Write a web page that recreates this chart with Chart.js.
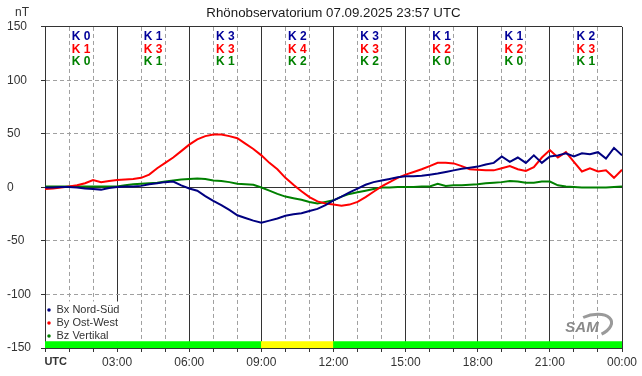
<!DOCTYPE html>
<html>
<head>
<meta charset="utf-8">
<script src="https://cdn.jsdelivr.net/npm/chart.js@4/dist/chart.umd.min.js"></script>
<style>
  html, body { margin: 0; padding: 0; background: #fff; }
</style>
</head>
<body>
<canvas id="magChart" width="642" height="376"></canvas>
<script>
const chartTitle = 'Rhönobservatorium 07.09.2025 23:57 UTC';
const stepHours = 1 / 3; // one sample every 20 minutes, 00:00 .. 24:00

// Bx Nord-Süd (nT)
const bx = [0, 0, 0.5, 0.5, 0, -1, -1.5, -2, -0.5, 0.5,
    1, 1, 1.5, 3, 4, 5, 5.5, 2, -1,
    -3, -8, -12.5, -16.5, -21, -26, -28.5, -31, -33,
    -31, -29, -26.5, -25, -24, -22, -20, -16.5, -12,
    -8.5, -4.5, -1, 2.5, 5, 6.5, 8, 9.5, 10.5,
    10.5, 11, 12, 13, 14.5, 16, 17.5, 18.5, 19.5,
    21.5, 23, 29, 24, 28, 23, 30, 23, 29,
    30, 32, 29, 32, 31, 33, 27, 37, 30];
// By Ost-West (nT)
const by = [-1.5, -1, 0, 1, 2, 4, 7, 5, 6, 7,
    7.5, 8, 9, 12, 18, 23, 28, 34, 40,
    45, 48, 49.5, 49.5, 48, 46, 41, 36, 30,
    23, 17, 9, 2.5, -3.5, -9, -13, -15, -16,
    -17, -16, -13.5, -9, -4, 1, 5, 9, 12,
    14.5, 17, 20, 23, 23, 22.5, 20, 17, 16.5,
    16, 16, 18, 20, 17, 15.5, 19, 28, 35,
    28, 33, 24, 15, 18, 15, 16, 9, 16.5];
// Bz Vertikal (nT)
const bz = [1, 1, 1, 1, 1, 1, 1, 1, 1, 1,
    2, 3, 3.5, 4, 4.5, 5.5, 6.5, 7.5, 8,
    8.5, 8, 6.5, 6, 5, 3.5, 3, 2.5, 0,
    -3, -6, -8.5, -10, -11.5, -13.5, -15, -13.5, -12,
    -8.5, -6, -4.5, -3, -1.5, 0, 0, 0.5, 0.5,
    0.5, 1, 1, 3.5, 1.5, 2, 2, 2.5, 3,
    4, 4.5, 5, 6, 5.5, 4.5, 4.5, 5.5, 5.5,
    2, 1, 0.5, 0, 0, 0, 0, 0.5, 1];

// K indices per 3-hour slot
const kBx = [0, 1, 3, 2, 3, 1, 1, 2];
const kBy = [1, 3, 3, 4, 3, 2, 2, 3];
const kBz = [0, 1, 1, 2, 2, 0, 0, 1];

const xTickLabels = ['UTC', '03:00', '06:00', '09:00', '12:00', '15:00', '18:00', '21:00', '00:00'];

const hours = bx.map((_, i) => i * stepHours);
const slotMid = kBx.map((_, i) => i * 3 + 1.5);
const kMax = kBx.map((k, i) => Math.max(k, kBy[i], kBz[i]));

const FONT = "'Liberation Sans', Arial, sans-serif";
Chart.defaults.font.family = FONT;

const isMajorX = ctx => ctx.tick && ctx.tick.value % 3 === 0;
const isMajorY = ctx => ctx.tick && ctx.tick.value % 150 === 0;

// legend sits in the lower left corner of the plot, on a white patch
const legendPlace = {
    id: 'legendPlace',
    afterLayout(chart) {
        const a = chart.chartArea, lg = chart.legend;
        lg.left = a.left; lg.right = a.right;
        lg.top = a.top; lg.bottom = a.bottom - 4.5;
        if (!lg._whiteBg) {
            const orig = lg.draw;
            lg.draw = function () {
                const col = (this.columnSizes && this.columnSizes[0]) || {width: 70, height: 39};
                const c = this.ctx;
                c.save();
                c.fillStyle = '#fff';
                c.fillRect(this.left + 1, this.bottom - col.height - 3, col.width + 5, col.height + 3);
                c.restore();
                orig.apply(this, arguments);
            };
            lg._whiteBg = true;
        }
    }
};

const overlay = {
    id: 'overlay',
    afterDraw(chart) {
        const {ctx, chartArea: a, scales: {x}} = chart;
        ctx.save();
        ctx.textBaseline = 'middle';
        ctx.fillStyle = '#333';
        ctx.font = '12px ' + FONT;
        ctx.textAlign = 'left';
        ctx.fillText('nT', 15, 13);

        ctx.font = 'bold 12px ' + FONT;
        ctx.textAlign = 'center';
        const rows = [[kBx, '#000099'], [kBy, '#ff0000'], [kBz, '#008000']];
        slotMid.forEach((h, i) => {
            const px = x.getPixelForValue(h);
            rows.forEach(([k, c], r) => {
                ctx.fillStyle = c;
                ctx.fillText('K ' + k[i], px, a.top + 10 + r * 12.5);
            });
        });

        // SAM logo
        ctx.strokeStyle = '#9a9a9a';
        ctx.lineWidth = 3;
        ctx.beginPath();
        ctx.ellipse(592, 326, 20, 11, -0.25, -1.9, 1.2);
        ctx.stroke();
        ctx.fillStyle = '#8a8a8a';
        ctx.font = 'italic bold 15px ' + FONT;
        ctx.fillText('SAM', 582, 328);
        ctx.restore();
    }
};

new Chart('magChart', {
    type: 'line',
    data: {
        labels: hours,
        datasets: [
            { label: 'Bx Nord-Süd', data: bx, borderColor: '#000080', backgroundColor: '#000080' },
            { label: 'By Ost-West', data: by, borderColor: '#ff0000', backgroundColor: '#ff0000' },
            { label: 'Bz Vertikal', data: bz, borderColor: '#008000', backgroundColor: '#008000' },
            {
                type: 'bar',
                label: 'K',
                data: slotMid.map(h => ({x: h, y: [-150, -144]})),
                backgroundColor: kMax.map(k => k >= 4 ? '#ffff00' : '#00ff00'),
                barThickness: 'flex',
                categoryPercentage: 1,
                barPercentage: 1,
                borderWidth: 0
            }
        ]
    },
    options: {
        responsive: false,
        animation: false,
        elements: {
            line: { borderWidth: 2, tension: 0, fill: false },
            point: { radius: 0, pointStyle: 'circle' }
        },
        layout: { padding: { left: 7, right: 20, top: 0, bottom: 0 } },
        plugins: {
            title: {
                display: true,
                text: chartTitle,
                fullSize: false,
                color: '#1a1a1a',
                font: { size: 13.3, weight: 'normal' },
                padding: { top: 5, bottom: 6 }
            },
            legend: {
                position: 'chartArea',
                align: 'end',
                labels: {
                    usePointStyle: true,
                    pointStyle: 'circle',
                    boxWidth: 4,
                    boxHeight: 2.5,
                    padding: 2,
                    color: '#333',
                    font: { size: 11 },
                    filter: item => item.datasetIndex < 3,
                    generateLabels: chart => Chart.defaults.plugins.legend.labels.generateLabels(chart)
                        .map(l => Object.assign(l, { lineWidth: 0 }))
                }
            },
            tooltip: { enabled: false }
        },
        scales: {
            x: {
                type: 'linear',
                min: 0,
                max: 24,
                offset: false,
                afterFit: s => { s.height = 28; },
                ticks: {
                    stepSize: 1,
                    autoSkip: false,
                    maxRotation: 0,
                    padding: 3,
                    color: '#333',
                    font: ctx => ctx.tick && ctx.tick.value === 0 ? { size: 11, weight: 'bold' } : { size: 12 },
                    callback: v => v === 0 ? '       ' + xTickLabels[0] : (v % 3 === 0 ? xTickLabels[v / 3] : '')
                },
                grid: {
                    offset: false,
                    color: ctx => isMajorX(ctx) ? '#333' : '#a0a0a0',
                    tickColor: '#333',
                    tickLength: 4,
                    lineWidth: 1
                },
                border: { color: '#333', dash: ctx => isMajorX(ctx) || !ctx.tick ? [] : [4, 3] }
            },
            y: {
                min: -150,
                max: 150,
                afterFit: s => { s.width = 38; },
                ticks: { stepSize: 50, crossAlign: 'far', color: '#333', font: { size: 12 } },
                grid: {
                    offset: false,
                    color: ctx => isMajorY(ctx) || ctx.tick && ctx.tick.value === 0 ? '#333' : '#a0a0a0',
                    tickColor: '#333',
                    tickLength: 4
                },
                border: { color: '#333', dash: ctx => !ctx.tick || ctx.tick.value % 150 === 0 ? [] : [4, 3] }
            }
        }
    },
    plugins: [legendPlace, overlay]
});
</script>
</body>
</html>
